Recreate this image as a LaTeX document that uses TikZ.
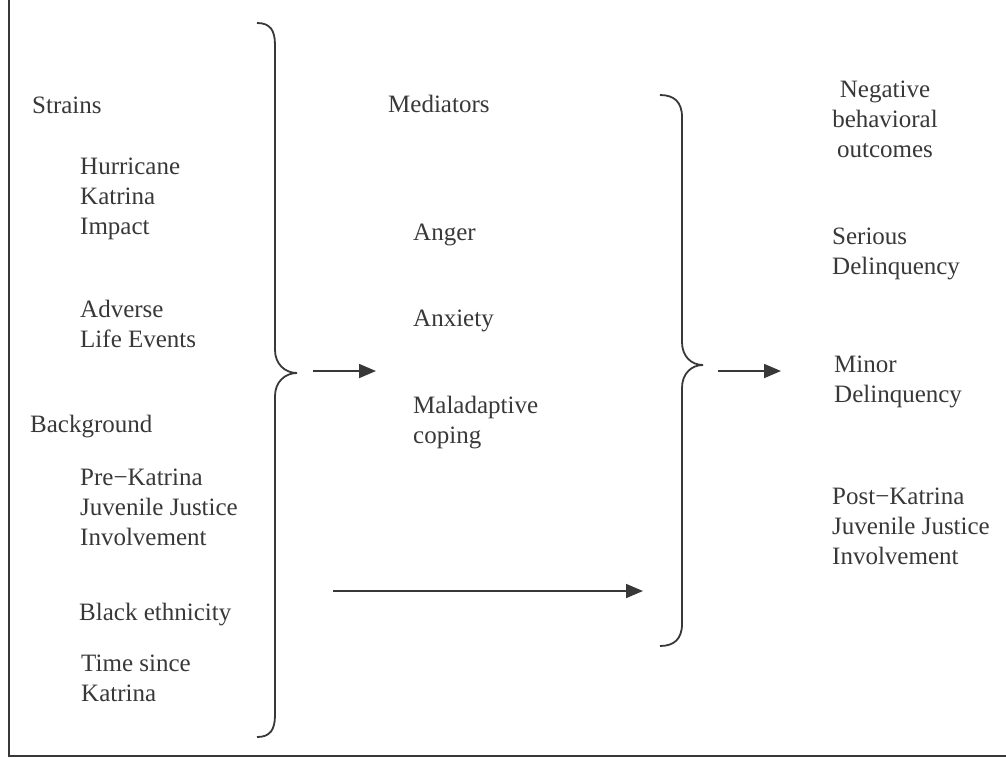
\documentclass[tikz,border=0pt]{standalone}
\usepackage{fontspec}
\setmainfont{Liberation Serif}
\usetikzlibrary{arrows.meta}
\definecolor{ink}{HTML}{383838}
\tikzset{
  lbl/.style={anchor=base west, align=left, inner sep=0pt, text=ink,
    font=\fontsize{25}{30}\selectfont},
  conn/.style={draw=ink, line width=1.8pt, -{Triangle[length=17pt,width=14pt]}},
  brace/.style={draw=ink, line width=1.8pt}
}

\begin{document}
\begin{tikzpicture}[x=1pt,y=-1pt]
\useasboundingbox (0,0) rectangle (1006,758);
\draw [ink, line width=1.6pt] (9,0) -- (9,756) -- (1006,756);

\node [lbl] (strains) at (32,113) {Strains};
\node [lbl] (hurricane) at (80,234) {Hurricane\\Katrina\\Impact};
\node [lbl] (adverse) at (80,347) {Adverse\\Life Events};
\node [lbl] (backgr) at (30,432) {Background};
\node [lbl] (prejj) at (80,545) {Pre−Katrina\\Juvenile Justice\\Involvement};
\node [lbl] (black) at (79,620) {Black ethnicity};
\node [lbl] (time) at (81,701) {Time since\\Katrina};

\node [lbl] (mediators) at (388,112) {Mediators};
\node [lbl] (anger) at (413,240) {Anger};
\node [lbl] (anxiety) at (413,326) {Anxiety};
\node [lbl] (malad) at (413,443) {Maladaptive\\coping};

\node [lbl, align=center, anchor=base] (negative) at (885,157) {Negative\\behavioral\\outcomes};
\node [lbl] (serious) at (832,274) {Serious\\Delinquency};
\node [lbl] (minor) at (834,402) {Minor\\Delinquency};
\node [lbl] (postjj) at (832,564) {Post−Katrina\\Juvenile Justice\\Involvement};

\draw [brace] (257,23) .. controls (270,23) and (275,30) .. (275,45) -- (275,350)
  .. controls (275,364) and (285,373) .. (297,373)
  .. controls (285,373) and (275,382) .. (275,396) -- (275,715)
  .. controls (275,730) and (270,737) .. (257,737);
\draw [brace] (660,95) .. controls (674,95) and (682,102) .. (682,117) -- (682,342)
  .. controls (682,356) and (691,365) .. (703,365)
  .. controls (691,365) and (682,374) .. (682,388) -- (682,624)
  .. controls (682,639) and (674,646) .. (660,646);

\coordinate (a1) at (313,371);
\coordinate (b1) at (376,371);
\coordinate (a2) at (718,371);
\coordinate (b2) at (781,371);
\coordinate (a3) at (333,591);
\coordinate (b3) at (643,591);
\draw [conn] (a1) -- (b1);
\draw [conn] (a2) -- (b2);
\draw [conn] (a3) -- (b3);
\end{tikzpicture}
\end{document}
